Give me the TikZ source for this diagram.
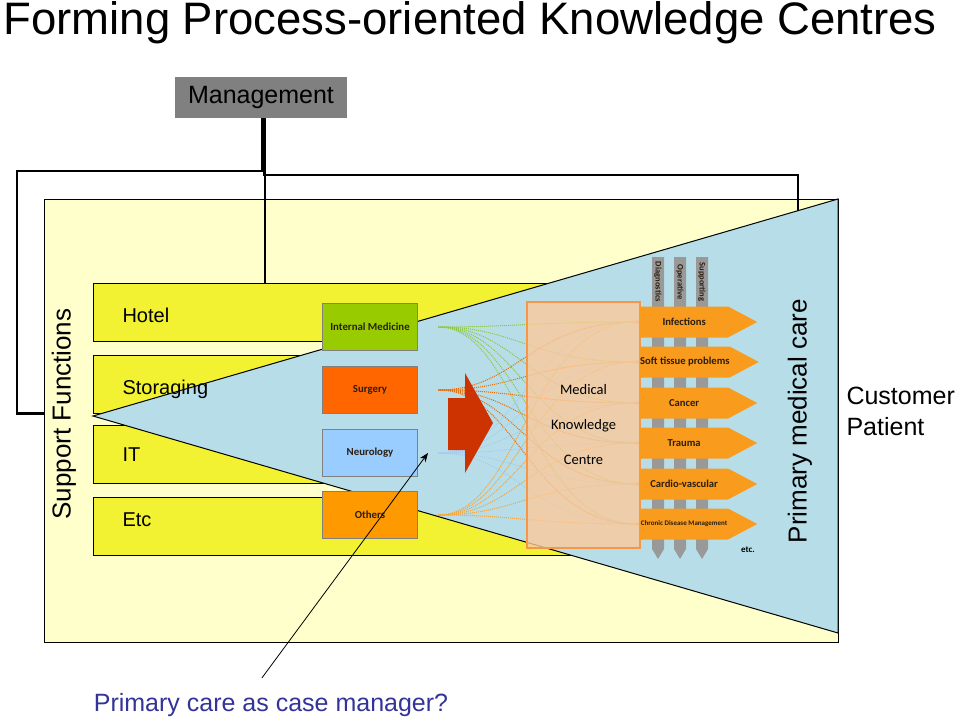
\documentclass[tikz,border=0pt]{standalone}
\usepackage{fontspec}
\setmainfont{Liberation Sans}
\newfontfamily\calfont{Carlito}
\usetikzlibrary{shapes.symbols, arrows.meta, positioning}

\definecolor{paleyellow}{HTML}{FFFFCC}
\definecolor{bandyellow}{HTML}{F2F232}
\definecolor{careblue}{HTML}{B7DEE8}
\definecolor{deptgray}{HTML}{808080}
\definecolor{imgreen}{HTML}{99CC00}
\definecolor{surgorange}{HTML}{FF6600}
\definecolor{neurblue}{HTML}{99CCFF}
\definecolor{othorange}{HTML}{FF9900}
\definecolor{arrowred}{HTML}{CC3300}
\definecolor{kcfill}{HTML}{FBC99B}
\definecolor{kcline}{HTML}{F79646}
\definecolor{careorange}{HTML}{F99B1C}
\definecolor{bargray}{HTML}{999999}
\definecolor{textdark}{HTML}{2B1E10}
\definecolor{capblue}{HTML}{333399}
\definecolor{fgreen}{HTML}{8DC63F}
\definecolor{fred}{HTML}{E46C0A}
\definecolor{fblue}{HTML}{A6CBEF}
\definecolor{forange}{HTML}{F5A33A}

\begin{document}
\begin{tikzpicture}[x=1pt, y=-1pt,
  mgmtbox/.style={fill=deptgray, minimum width=172pt, minimum height=41pt,
    font=\fontsize{25}{30}\selectfont},
  rail/.style={line width=2.8pt},
  band/.style={draw, fill=bandyellow, line width=1pt, minimum width=610pt,
    minimum height=58pt, anchor=west, inner sep=0pt},
  bandlab/.style={anchor=west, font=\fontsize{20}{24}\selectfont},
  bigtext/.style={font=\fontsize{26}{31}\selectfont},
  dept/.style={draw=deptgray, line width=1.5pt, minimum width=95pt,
    minimum height=47pt, inner sep=1pt, text=textdark,
    font=\calfont\bfseries\fontsize{10.8}{12}\selectfont},
  care/.style={signal, signal to=east, signal pointer angle=56,
    fill=careorange, minimum width=117pt, minimum height=31pt,
    inner sep=0pt, anchor=west, text=textdark,
    font=\calfont\bfseries\fontsize{10.6}{12}\selectfont},
  fan/.style={dash pattern=on 1pt off 1pt, line width=1pt,
    -{Latex[length=4pt,width=4pt]}},
  barlab/.style={rotate=-90, text=textdark,
    font=\calfont\bfseries\fontsize{8.5}{9}\selectfont}
  ]
  \useasboundingbox (0,0) rectangle (960,725);

  \node[anchor=base west, font=\fontsize{45.5}{50}\selectfont] (title) at (0,35)
    {Forming Process-oriented Knowledge Centres};

  \node[mgmtbox] (mgmt) at (261,97.5) {Management};
  \coordinate (jl) at (262,171);
  \coordinate (jr) at (264.5,175);
  \coordinate (pe) at (798,232);

  \node[draw, fill=paleyellow, line width=1.2pt, minimum width=794pt,
    minimum height=443pt, anchor=north west, inner sep=0pt] (outer) at (44,199) {};

  \draw[rail] (mgmt.south -| jl) -- (jl) -| (17,300) |- ([yshift=8pt]outer.west);
  \draw[rail] (mgmt.south -| jr) -- (jr) -| (pe);

  \node[band] (hotel) at (93,312.5) {};
  \node[band] (stor) at (93,384) {};
  \node[band] (it) at (93,454.5) {};
  \node[band] (etc) at (93,526) {};
  \draw[line width=2pt] (jr) -- (jr |- hotel.north);

  \coordinate (apex) at (93,416);
  \filldraw[fill=careblue, draw=black, line width=1pt]
    (apex) -- (838,199) -- (838,633) -- cycle;

  \node[bandlab] at ([xshift=26pt,yshift=-3pt]hotel.west) {Hotel};
  \node[bandlab] at ([xshift=26pt,yshift=-5pt]stor.west) {Storaging};
  \node[bandlab] at ([xshift=26pt]it.west) {IT};
  \node[bandlab] at ([xshift=26pt,yshift=6pt]etc.west) {Etc};
  \node[bigtext, rotate=90] (sf) at (64,414) {Support Functions};

  \node[dept, fill=imgreen] (d1) at (370,327) {Internal Medicine};
  \node[dept, fill=surgorange] (d2) at (370,390) {Surgery};
  \node[dept, fill=neurblue] (d3) at (370,453) {Neurology};
  \node[dept, fill=othorange] (d4) at (370,515) {Others};

  \coordinate (t1) at (640,322);
  \coordinate (t2) at (640,362);
  \coordinate (t3) at (640,403);
  \coordinate (t4) at (640,443);
  \coordinate (t5) at (640,484);
  \coordinate (t6) at (640,524);

  \foreach \i/\col in {1/fgreen,2/fred,3/fblue,4/forange}
    \foreach \j in {1,...,6}
      \draw[fan, \col] ([xshift=20pt]d\i.east) .. controls +(80,0) and +(-110,0) .. (t\j);

  \fill[arrowred] (448,398) -- (465,398) -- (465,373) -- (493,423)
    -- (465,473) -- (465,450) -- (448,450) -- cycle;

  \foreach \x/\lab in {658/Diagnostics,680/Operative,702/Supporting} {
    \fill[bargray] (\x-6,257) -- (\x+6,257) -- (\x+6,549) -- (\x,559) -- (\x-6,549) -- cycle;
    \node[barlab] at (\x,282) {\lab};
  }

  \node[draw=kcline, line width=2pt, fill=kcfill, fill opacity=0.8, text opacity=1,
    minimum width=113pt, minimum height=246pt, align=center,
    font=\calfont\fontsize{14.5}{35}\selectfont] (kc) at (583.5,425)
    {Medical\\Knowledge\\Centre};

  \node[care] (a1) at (t1) {Infections};
  \node[care] (a2) at (t2) {Soft tissue problems};
  \node[care] (a3) at (t3) {Cancer};
  \node[care] (a4) at (t4) {Trauma};
  \node[care] (a5) at (t5) {Cardio-vascular};
  \node[care, font=\calfont\bfseries\fontsize{7}{8}\selectfont] (a6) at (t6)
    {Chronic Disease Management};

  \node[font=\calfont\bfseries\fontsize{9}{10}\selectfont] (etcnote) at (748,550) {etc.};
  \node[bigtext, rotate=90] (pmc) at (800,421) {Primary medical care};
  \node[anchor=west, align=left, font=\fontsize{25}{31}\selectfont] (cust) at (843,411)
    {Customer\\Patient};

  \coordinate (cm) at (428,453);
  \node[font=\fontsize{25}{30}\selectfont, text=capblue] (case) at (271,705)
    {Primary care as case manager?};
  \draw[line width=0.8pt, -{Stealth[length=9pt,width=7pt]}]
    ([shift={(-9pt,12pt)}]case.north) -- (cm);
\end{tikzpicture}
\end{document}
